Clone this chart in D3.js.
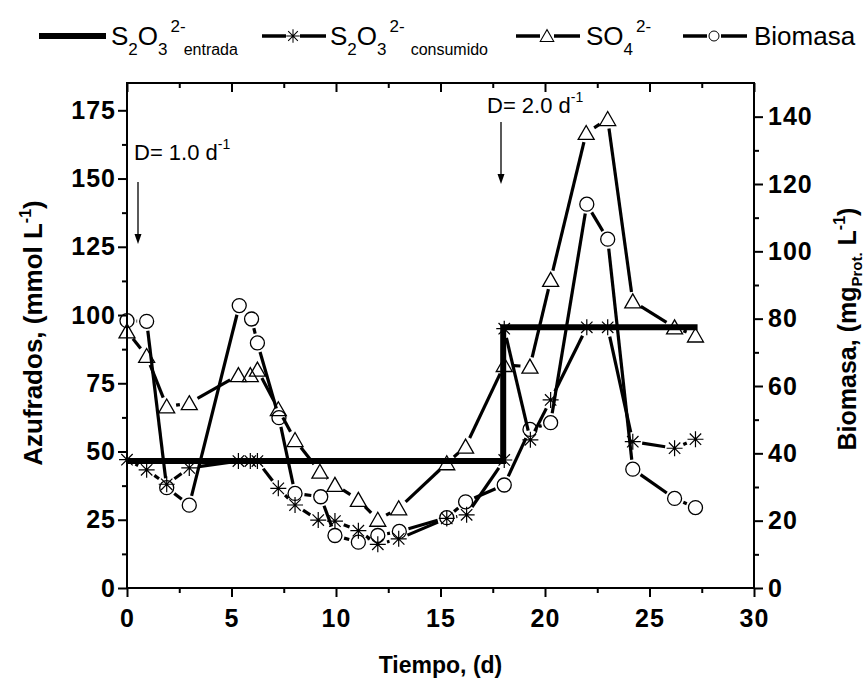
<!DOCTYPE html>
<html>
<head>
<meta charset="utf-8">
<script src="https://cdn.jsdelivr.net/npm/d3@7"></script>
<style>
  body { margin: 0; background: #fff; }
  svg { display: block; font-family: "Liberation Sans", Arial, sans-serif; }
</style>
</head>
<body>
<div id="graph"></div>
<script>
// tiempo (d) y valores
var tEntrada = [0, 18, 18, 27.3];
var entrada = [46.5, 46.5, 95.5, 95.5];

var tConsumido = [0, 0.94, 1.9, 2.98, 5.33, 5.9, 6.24, 7.24, 8.04, 9.15, 9.95, 11.07, 12.0, 13.0, 15.3, 16.25, 18.05, 18.05, 19.3, 20.27, 22.0, 23.0, 24.2, 26.2, 27.2];
var consumido = [47, 43.3, 38, 44, 46.5, 46.5, 46.5, 36.5, 30.4, 24.9, 24.5, 21, 16, 18, 25.5, 26.8, 46.9, 95, 54.3, 68.9, 95.5, 95.5, 53.6, 51.2, 54.5];

var tSulfato = [0, 0.94, 1.9, 2.98, 5.33, 5.9, 6.24, 7.24, 8.04, 9.23, 9.95, 11.07, 12.0, 13.0, 15.3, 16.2, 18.05, 19.28, 20.27, 21.97, 23.0, 24.2, 26.2, 27.2];
var sulfato = [94, 85, 66.5, 67.7, 78, 78, 80, 65.5, 54.2, 42.6, 37.8, 32.3, 25, 29.2, 45.7, 51.8, 81.7, 81.1, 112.9, 166.7, 171.8, 105, 95.5, 92.5];

var tBiomasa = [0, 0.94, 1.9, 2.98, 5.37, 5.96, 6.24, 7.27, 8.04, 9.27, 9.95, 11.07, 12.0, 13.03, 15.3, 16.2, 18.05, 19.28, 20.27, 22.0, 23.0, 24.2, 26.2, 27.2];
var biomasa = [79.4, 79.2, 29.8, 24.6, 83.9, 79.9, 72.8, 50.6, 28.1, 27.1, 15.6, 13.6, 15.6, 16.8, 20.9, 25.6, 30.6, 47.1, 49.1, 114, 103.6, 35.3, 26.6, 23.9];

var xTicks = [0, 5, 10, 15, 20, 25, 30];
var yLeftTicks = [0, 25, 50, 75, 100, 125, 150, 175];
var yRightTicks = [0, 20, 40, 60, 80, 100, 120, 140];

var width = 865, height = 681;
var pLeft = 127, pRight = 754, pTop = 83, pBottom = 588;
var font = "'Liberation Sans', Arial, sans-serif";

var svg = d3.select("#graph").append("svg")
  .attr("width", width)
  .attr("height", height);

var x = d3.scaleLinear().domain([0, 30]).range([pLeft, pRight]);
var yL = d3.scaleLinear().domain([0, 185]).range([pBottom, pTop]);
var yR = d3.scaleLinear().domain([0, 150]).range([pBottom, pTop]);

function styleAxis(g) {
  g.select(".domain").remove();
  g.selectAll("line").attr("stroke", "#000").attr("stroke-width", 2);
  g.selectAll("text").attr("font-family", font).attr("font-size", 25)
    .attr("font-weight", "bold").attr("letter-spacing", 1).attr("fill", "#000");
}

function minor(ticks) {
  var out = [];
  for (var i = 0; i < ticks.length - 1; i++) out.push((ticks[i] + ticks[i + 1]) / 2);
  return out;
}

// eje x abajo
svg.append("g").attr("transform", "translate(0," + pBottom + ")")
  .call(d3.axisBottom(x).tickValues(xTicks).tickSize(9).tickPadding(12).tickFormat(d3.format("d")))
  .call(styleAxis);
svg.append("g").attr("transform", "translate(0," + pBottom + ")")
  .call(d3.axisBottom(x).tickValues(minor(xTicks)).tickSize(5).tickFormat(""))
  .call(styleAxis);
// eje x arriba (ticks hacia dentro)
svg.append("g").attr("transform", "translate(0," + pTop + ")")
  .call(d3.axisBottom(x).tickValues(xTicks).tickSize(9).tickFormat(""))
  .call(styleAxis);
svg.append("g").attr("transform", "translate(0," + pTop + ")")
  .call(d3.axisBottom(x).tickValues(minor(xTicks)).tickSize(5).tickFormat(""))
  .call(styleAxis);
// eje izquierdo
svg.append("g").attr("transform", "translate(" + pLeft + ",0)")
  .call(d3.axisLeft(yL).tickValues(yLeftTicks).tickSize(9).tickPadding(2))
  .call(styleAxis);
svg.append("g").attr("transform", "translate(" + pLeft + ",0)")
  .call(d3.axisLeft(yL).tickValues(minor(yLeftTicks)).tickSize(5).tickFormat(""))
  .call(styleAxis);
// eje derecho
svg.append("g").attr("transform", "translate(" + pRight + ",0)")
  .call(d3.axisRight(yR).tickValues(yRightTicks).tickSize(9).tickPadding(5))
  .call(styleAxis);
svg.append("g").attr("transform", "translate(" + pRight + ",0)")
  .call(d3.axisRight(yR).tickValues(minor(yRightTicks)).tickSize(5).tickFormat(""))
  .call(styleAxis);

svg.append("rect")
  .attr("x", pLeft).attr("y", pTop)
  .attr("width", pRight - pLeft).attr("height", pBottom - pTop)
  .attr("fill", "none").attr("stroke", "#000").attr("stroke-width", 2);

// lineas con hueco en cada marcador
function gapped(ts, vs, scale, gap) {
  var pts = ts.map(function (t, i) { return [x(t), scale(vs[i])]; });
  var segs = [];
  for (var i = 0; i < pts.length - 1; i++) {
    var a = pts[i], b = pts[i + 1];
    var dx = b[0] - a[0], dy = b[1] - a[1];
    var len = Math.sqrt(dx * dx + dy * dy);
    if (len <= 2 * gap) continue;
    var ux = dx / len, uy = dy / len;
    segs.push([a[0] + ux * gap, a[1] + uy * gap, b[0] - ux * gap, b[1] - uy * gap]);
  }
  return segs;
}

function drawSegs(segs, w) {
  svg.append("g").selectAll("line").data(segs).enter().append("line")
    .attr("x1", function (d) { return d[0]; })
    .attr("y1", function (d) { return d[1]; })
    .attr("x2", function (d) { return d[2]; })
    .attr("y2", function (d) { return d[3]; })
    .attr("stroke", "#000").attr("stroke-width", w);
}

var triPath = "M0,-7.5L8,6.5L-8,6.5Z";
var starPath = "M0,-8L0,8M-8,0L8,0M-5.7,-5.7L5.7,5.7M-5.7,5.7L5.7,-5.7";

drawSegs(gapped(tSulfato, sulfato, yL, 9.5), 3.2);
drawSegs(gapped(tConsumido, consumido, yL, 9.5), 3.2);
drawSegs(gapped(tBiomasa, biomasa, yR, 9.5), 3.2);

// entrada (linea gruesa sin marcadores)
svg.append("path")
  .datum(tEntrada.map(function (t, i) { return [t, entrada[i]]; }))
  .attr("d", d3.line().x(function (d) { return x(d[0]); }).y(function (d) { return yL(d[1]); }))
  .attr("fill", "none").attr("stroke", "#000").attr("stroke-width", 6);

svg.append("g").selectAll("path").data(tSulfato).enter().append("path")
  .attr("transform", function (t, i) { return "translate(" + x(t) + "," + yL(sulfato[i]) + ")"; })
  .attr("d", triPath).attr("fill", "none").attr("stroke", "#000").attr("stroke-width", 1.3);

svg.append("g").selectAll("path").data(tConsumido).enter().append("path")
  .attr("transform", function (t, i) { return "translate(" + x(t) + "," + yL(consumido[i]) + ")"; })
  .attr("d", starPath).attr("fill", "none").attr("stroke", "#000").attr("stroke-width", 1.2);

svg.append("g").selectAll("circle").data(tBiomasa).enter().append("circle")
  .attr("cx", function (t) { return x(t); })
  .attr("cy", function (t, i) { return yR(biomasa[i]); })
  .attr("r", 7).attr("fill", "none").attr("stroke", "#000").attr("stroke-width", 1.3);

// anotaciones
function annot(tx, ty, label, ax, ay1, ay2) {
  var t = svg.append("text").attr("x", tx).attr("y", ty)
    .attr("font-size", 22).attr("font-family", font).text(label);
  t.append("tspan").attr("font-size", 14).attr("dy", -11).text("-1");
  svg.append("line").attr("x1", ax).attr("x2", ax).attr("y1", ay1).attr("y2", ay2 - 8)
    .attr("stroke", "#000").attr("stroke-width", 1.3);
  svg.append("path").attr("d", "M" + (ax - 3.5) + "," + (ay2 - 10) + "L" + (ax + 3.5) + "," + (ay2 - 10) + "L" + ax + "," + ay2 + "Z")
    .attr("fill", "#000");
}
annot(134, 160, "D= 1.0 d", 138, 182, 244);
annot(487, 113, "D= 2.0 d", 501, 122, 184);

// titulos de ejes
svg.append("text").attr("x", (pLeft + pRight) / 2).attr("y", 673)
  .attr("text-anchor", "middle").attr("font-size", 23).attr("font-weight", "bold")
  .attr("font-family", font).text("Tiempo, (d)");

var lt = svg.append("text")
  .attr("transform", "translate(42,333) rotate(-90)")
  .attr("text-anchor", "middle").attr("font-size", 26).attr("font-weight", "bold")
  .attr("font-family", font);
lt.append("tspan").text("Azufrados, (mmol L");
lt.append("tspan").attr("font-size", 16).attr("dy", -11).text("-1");
lt.append("tspan").attr("dy", 11).text(")");

var rt = svg.append("text")
  .attr("transform", "translate(856,329) rotate(-90)")
  .attr("text-anchor", "middle").attr("font-size", 25).attr("font-weight", "bold")
  .attr("font-family", font);
rt.append("tspan").text("Biomasa, (mg");
rt.append("tspan").attr("font-size", 15).attr("dy", 6).text("Prot.");
rt.append("tspan").attr("dy", -6).text(" L");
rt.append("tspan").attr("font-size", 16).attr("dy", -11).text("-1");
rt.append("tspan").attr("dy", 11).text(")");

// leyenda
var ly = 36;
var legend = svg.append("g").attr("font-family", font);

function chem(x0, parts) {
  // parts: [texto, tipo] tipo: n normal, b sub, p super
  var t = legend.append("text").attr("x", x0).attr("y", 45).attr("font-size", 26);
  var cur = 0;
  parts.forEach(function (p) {
    var s = t.append("tspan").text(p[0]);
    var target = p[1] === "b" ? 10 : p[1] === "p" ? -13 : 0;
    s.attr("dy", target - cur);
    if (p[1] !== "n") s.attr("font-size", p[2] || 17);
    if (p[3]) s.attr("dx", p[3]);
    cur = target;
  });
}

legend.append("line").attr("x1", 39).attr("x2", 106).attr("y1", ly).attr("y2", ly)
  .attr("stroke", "#000").attr("stroke-width", 6);
chem(111, [["S", "n"], ["2", "b"], ["O", "n"], ["3", "b"], ["2-", "p", 17, 3], ["entrada", "b", 16, -2]]);

function legendItem(x0, mark) {
  legend.append("line").attr("x1", x0).attr("x2", x0 + 24).attr("y1", ly).attr("y2", ly)
    .attr("stroke", "#000").attr("stroke-width", 3.5);
  legend.append("line").attr("x1", x0 + 38).attr("x2", x0 + 64).attr("y1", ly).attr("y2", ly)
    .attr("stroke", "#000").attr("stroke-width", 3.5);
  if (mark === "c") {
    legend.append("circle").attr("cx", x0 + 31).attr("cy", ly).attr("r", 5)
      .attr("fill", "none").attr("stroke", "#000").attr("stroke-width", 1);
  } else {
    legend.append("path").attr("transform", "translate(" + (x0 + 31) + "," + ly + ") scale(0.85)")
      .attr("d", mark === "s" ? starPath : triPath).attr("fill", "none").attr("stroke", "#000").attr("stroke-width", 1.2);
  }
}
legendItem(262, "s");
chem(330, [["S", "n"], ["2", "b"], ["O", "n"], ["3", "b"], ["2-", "p", 17, 3], ["consumido", "b", 16, 6]]);
legendItem(516, "t");
chem(586, [["SO", "n"], ["4", "b"], ["2-", "p", 17, 3]]);
legendItem(683, "c");
legend.append("text").attr("x", 754).attr("y", 45).attr("font-size", 26).text("Biomasa");
</script>
</body>
</html>
